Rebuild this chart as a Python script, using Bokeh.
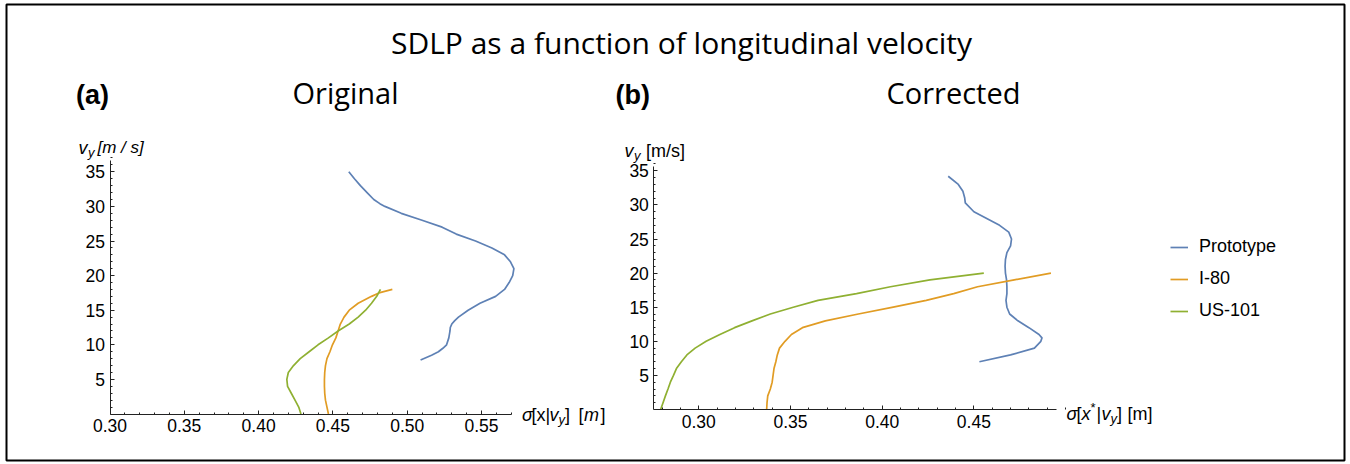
from bokeh.plotting import figure
from bokeh.models import (Range1d, LinearAxis, FixedTicker, Label, Legend, LegendItem,
                          NumeralTickFormatter)
from bokeh.embed import file_html
from bokeh.resources import INLINE

# ---------------- data ----------------
SERIES = ["Prototype", "I-80", "US-101"]
COLORS = ["#5E81B5", "#E19C24", "#8FB032"]

# panel (a) "Original": sigma[x|v_y] (m) vs v_y (m/s)
A_PROTO_V = [7.8, 8.5, 9, 9.5, 10, 11, 12, 12.5, 13, 13.5, 14, 15, 16, 17, 18, 19, 20, 21, 22, 23,
             24, 25, 26, 27, 28, 29, 30, 30.4, 31, 32, 33, 34, 35]
A_PROTO_S = [0.509, 0.5164, 0.521, 0.524, 0.5265, 0.528, 0.5288, 0.529, 0.530, 0.532, 0.5345,
             0.541, 0.549, 0.5595, 0.5655, 0.5686, 0.5710, 0.5718, 0.5695, 0.5655, 0.557, 0.546,
             0.533, 0.5235, 0.510, 0.496, 0.485, 0.4816, 0.4775, 0.473, 0.4685, 0.4645, 0.4607]
A_I80_V = [0, 1, 2, 3, 4, 5, 6, 7, 8, 9, 10, 11, 12, 13, 14, 15, 16, 17, 17.5, 18]
A_I80_S = [0.447, 0.446, 0.445, 0.4445, 0.4443, 0.4443, 0.4445, 0.445, 0.446, 0.448, 0.4497,
           0.452, 0.4535, 0.455, 0.4575, 0.461, 0.467, 0.476, 0.481, 0.490]
A_US101_V = [0, 1, 2, 3, 4, 5, 6, 7, 8, 9, 10, 11, 12, 13, 14, 15, 16, 17, 18]
A_US101_S = [0.4285, 0.427, 0.4245, 0.422, 0.4195, 0.419, 0.420, 0.4235, 0.428, 0.434, 0.440,
             0.447, 0.4535, 0.461, 0.467, 0.472, 0.476, 0.4795, 0.482]

# panel (b) "Corrected": sigma[x*|v_y] (m) vs v_y (m/s)
B_PROTO_V = [7, 8, 9, 10, 10.5, 11, 12, 13, 14, 15, 16, 17, 18, 19, 20, 21, 22, 23, 24, 25, 26,
             27, 28, 29, 30.3, 31, 32, 33, 34.2]
B_PROTO_S = [0.453, 0.470, 0.483, 0.4865, 0.4871, 0.4855, 0.480, 0.474, 0.4695, 0.468, 0.4675,
             0.468, 0.468, 0.4678, 0.4672, 0.467, 0.4672, 0.468, 0.470, 0.4705, 0.469, 0.464,
             0.457, 0.450, 0.4453, 0.445, 0.444, 0.4415, 0.436]
B_I80_V = [0, 1, 2, 3, 4, 5, 6, 7, 8, 9, 10, 11, 12, 13, 14, 15, 16, 17, 18, 19, 20]
B_I80_S = [0.337, 0.3372, 0.3376, 0.339, 0.340, 0.3405, 0.341, 0.342, 0.3428, 0.344, 0.347,
           0.3505, 0.3565, 0.369, 0.387, 0.406, 0.424, 0.439, 0.452, 0.472, 0.492]
B_US101_V = [0, 1, 2, 3, 4, 5, 6, 7, 8, 9, 10, 11, 12, 13, 14, 15, 16, 17, 18, 19, 20]
B_US101_S = [0.2792, 0.2805, 0.2818, 0.2832, 0.2845, 0.2862, 0.2878, 0.2905, 0.2935, 0.298,
             0.304, 0.3115, 0.3195, 0.329, 0.339, 0.3515, 0.365, 0.386, 0.4045, 0.426, 0.4554]

A_XTICKS = [0.30, 0.35, 0.40, 0.45, 0.50, 0.55]
B_XTICKS = [0.30, 0.35, 0.40, 0.45]
YTICKS = [5, 10, 15, 20, 25, 30, 35]

# ---------------- layout (pixels) ----------------
W, H = 1350, 464
FL, FR, FT, FB = 6, 1344, 4, 460          # frame edges (canvas px, y from top)

# panel geometry: pixel of reference value and pixels per unit
A_X0PX, A_X0, A_XPPU = 109.5, 0.30, 1486.0
A_Y0PX, A_YPPU = 413.5, 6.92
A_XLIM, A_YLIM = (0.30, 0.5705), (0, 36.7)
B_X0PX, B_X0, B_XPPU = 698.3, 0.30, 1834.0
B_Y0PX, B_YPPU = 409.0, 6.82
B_XLIM, B_YLIM = (0.2755, 0.4953), (0, 35.7)


def xrange_for(px0, v0, ppu):
    return Range1d(v0 + (FL - px0) / ppu, v0 + (FR - px0) / ppu)


def yrange_for(py0, ppu):
    return Range1d((py0 - FB) / ppu, (py0 - FT) / ppu)


p = figure(width=W, height=H, output_backend="svg", toolbar_location=None,
           x_range=Range1d(FL, FR), y_range=Range1d(FB, FT),
           x_axis_type=None, y_axis_type=None,
           min_border_left=FL, min_border_right=W - FR,
           min_border_top=FT, min_border_bottom=H - FB)
p.outline_line_color = "black"
p.outline_line_width = 2
p.background_fill_color = "white"
p.border_fill_color = "white"

p.extra_x_ranges = {"ax": xrange_for(A_X0PX, A_X0, A_XPPU),
                    "bx": xrange_for(B_X0PX, B_X0, B_XPPU)}
p.extra_y_ranges = {"ay": yrange_for(A_Y0PX, A_YPPU),
                    "by": yrange_for(B_Y0PX, B_YPPU)}

TICK_FONT = "Liberation Sans"


def minor(lo, hi, step, majors):
    out = []
    n = int(round((hi - lo) / step))
    for i in range(n + 1):
        v = round(lo + i * step, 4)
        if all(abs(v - m) > 1e-6 for m in majors):
            out.append(v)
    return out


def style_axis(ax):
    ax.axis_line_color = "#222222"
    ax.axis_line_width = 1
    ax.major_tick_line_color = "#222222"
    ax.minor_tick_line_color = "#222222"
    ax.major_tick_in = 4
    ax.major_tick_out = 0
    ax.minor_tick_in = 2
    ax.minor_tick_out = 0
    ax.major_label_text_font = TICK_FONT
    ax.major_label_text_font_size = "17.5px"
    ax.major_label_text_color = "black"
    ax.major_label_standoff = 5


def add_axes(xr, yr, xlim, ylim, xticks, xminor_lo):
    xa = LinearAxis(x_range_name=xr, y_range_name=yr, fixed_location=0, bounds=xlim,
                    ticker=FixedTicker(ticks=xticks,
                                       minor_ticks=minor(xminor_lo, xlim[1], 0.01, xticks)),
                    formatter=NumeralTickFormatter(format="0.00"))
    style_axis(xa)
    p.add_layout(xa, "below")
    ya = LinearAxis(x_range_name=xr, y_range_name=yr, fixed_location=xlim[0], bounds=ylim,
                    ticker=FixedTicker(ticks=YTICKS, minor_ticks=minor(1, ylim[1], 1, YTICKS)),
                    formatter=NumeralTickFormatter(format="0"))
    style_axis(ya)
    p.add_layout(ya, "left")


add_axes("ax", "ay", A_XLIM, A_YLIM, A_XTICKS, 0.31)
add_axes("bx", "by", B_XLIM, B_YLIM, B_XTICKS, 0.28)

# ---------------- curves ----------------
a_data = [(A_PROTO_S, A_PROTO_V), (A_I80_S, A_I80_V), (A_US101_S, A_US101_V)]
b_data = [(B_PROTO_S, B_PROTO_V), (B_I80_S, B_I80_V), (B_US101_S, B_US101_V)]
legend_renderers = []
for (s, v), c in zip(a_data, COLORS):
    p.line(s, v, x_range_name="ax", y_range_name="ay", line_color=c, line_width=1.7,
           line_join="round")
for (s, v), c in zip(b_data, COLORS):
    r = p.line(s, v, x_range_name="bx", y_range_name="by", line_color=c, line_width=1.7,
               line_join="round")
    legend_renderers.append(r)

# ---------------- legend ----------------
leg_top, item_h, gap = 239, 20, 11
leg_h = 3 * item_h + 2 * gap
legend = Legend(items=[LegendItem(label=n, renderers=[r]) for n, r in zip(SERIES, legend_renderers)],
                location=(1170 - FL, FB - leg_top - leg_h),
                glyph_width=18, glyph_height=item_h, label_height=item_h, label_width=60,
                label_standoff=11, spacing=gap, padding=0, margin=0,
                background_fill_alpha=0, border_line_alpha=0,
                label_text_font=TICK_FONT, label_text_font_size="18px",
                label_text_color="black")
p.add_layout(legend)

# ---------------- texts ----------------
TITLE_FONT = "Open Sans"


def txt(x, y, s, size, font=TICK_FONT, style="normal", align="left", baseline="alphabetic"):
    p.add_layout(Label(x=x, y=y, text=s, text_font=font, text_font_size=size,
                       text_font_style=style, text_align=align, text_baseline=baseline,
                       text_color="black"))


txt(681, 42, "SDLP as a function of longitudinal velocity", "30px", TITLE_FONT,
    align="center", baseline="middle")
txt(75.5, 94, "(a)", "27px", TICK_FONT, style="bold", baseline="middle")
txt(345, 92, "Original", "29px", TITLE_FONT, align="center", baseline="middle")
txt(615, 94, "(b)", "27px", TICK_FONT, style="bold", baseline="middle")
txt(953, 92, "Corrected", "29px", TITLE_FONT, align="center", baseline="middle")

# y-axis labels
txt(78, 147, "v", "18px", style="italic")
txt(87.5, 151.5, "y", "13px", style="italic")
txt(97, 147, "[m / s]", "17px", style="italic")
txt(624, 150.5, "v", "18px", style="italic")
txt(633.5, 155, "y", "13px", style="italic")
txt(645.5, 150.5, "[m/s]", "18px")

# x-axis label (a): sigma[x|v_y] [m]
ya0 = 414.5
txt(521.5, ya0, "σ", "18px", style="italic")
txt(531, ya0, "[x|", "18px")
txt(549, ya0, "v", "18px", style="italic")
txt(558, ya0 + 4, "y", "13px", style="italic")
txt(564.5, ya0, "]", "18px")
txt(578, ya0, "[", "18px")
txt(583.5, ya0, "m", "18px", style="italic")
txt(600, ya0, "]", "18px")

# x-axis label (b): sigma[x*|v_y] [m]
yb0 = 413.5
txt(1066, yb0, "σ", "18px", style="italic")
txt(1076, yb0, "[", "18px")
txt(1081, yb0, "x", "18px", style="italic")
txt(1090, yb0 - 7, "*", "13px")
txt(1096, yb0, "|", "18px")
txt(1101, yb0, "v", "18px", style="italic")
txt(1110, yb0 + 4, "y", "13px", style="italic")
txt(1116.5, yb0, "]", "18px")
txt(1127, yb0, "[m]", "18px")

open("out.html", "w").write(file_html(p, INLINE))
